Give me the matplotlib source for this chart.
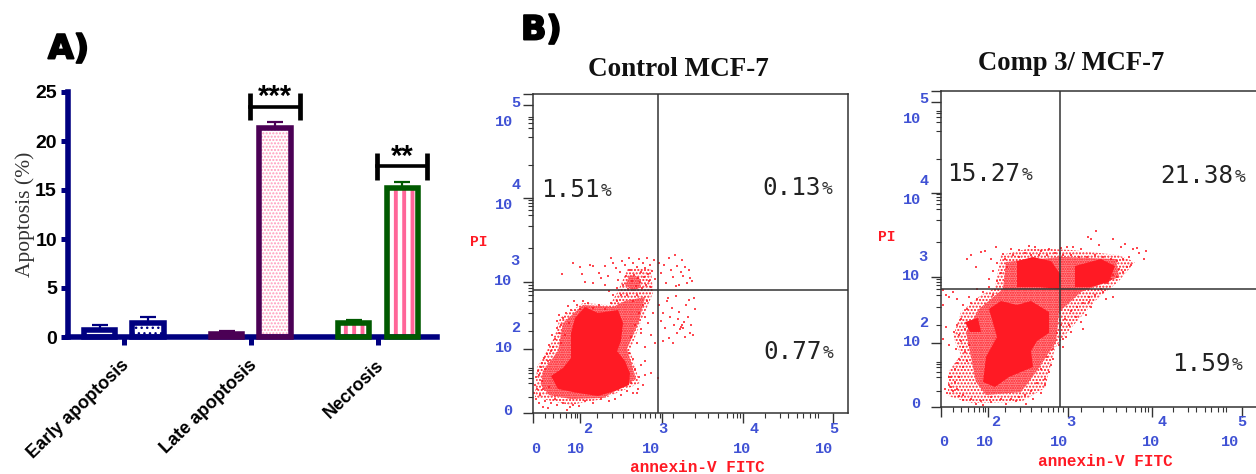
import matplotlib
matplotlib.use('Agg')
import matplotlib.pyplot as plt
import matplotlib.patheffects as pe
import numpy as np

W, H = 1256, 474

# Panel A
categories = ['Early apoptosis', 'Late apoptosis', 'Necrosis']
control_vals = [0.75, 0.3, 1.45]
treated_vals = [1.45, 21.3, 15.2]
control_err = [0.45, 0.3, 0.3]
treated_err = [0.55, 0.6, 0.6]
y_ticks = [0, 5, 10, 15, 20, 25]
sig_cats = [1, 2]
sig_heights = [23.5, 17.4]
sig_labels = ['***', '**']

# Panel B - flow cytometry plots, everything in display channels
x_major = [0, 47, 129, 210, 300]
x_minor = [12, 20, 27, 33, 38, 42, 44, 64, 79, 90, 100, 107, 112, 117, 122, 127, 140, 162, 175, 185,
           194, 200, 204, 207, 232, 247, 255, 264, 270, 277, 282, 285]
y_minor = [16, 30, 35, 40, 43, 45, 82, 100, 112, 118, 122, 125, 128, 165, 187, 198, 203, 207, 210, 213,
           248, 276, 285, 290, 294, 296]
exponents = ['2', '3', '4', '5']
percent_ctrl = ['1.51', '0.13', '0.77']
percent_comp = ['15.27', '21.38', '1.59']

ctrl_dense = [(18, 37), (30, 45), (38, 55), (38, 80), (42, 95), (52, 106), (65, 100), (85, 103), (90, 90), (88, 72),
              (84, 62), (92, 52), (97, 40), (96, 28), (82, 22), (65, 17), (45, 20), (25, 24)]
ctrl_mid = [(8, 28), (10, 42), (25, 62), (30, 90), (50, 108), (80, 106), (92, 112), (112, 116), (106, 92),
            (94, 64), (103, 34), (70, 15), (38, 14), (16, 18)]
ctrl_light = [(2, 16), (4, 46), (20, 73), (27, 95), (50, 110), (77, 108), (85, 122), (95, 145), (118, 145),
              (120, 120), (110, 96), (97, 63), (107, 30), (70, 14), (37, 8), (14, 13)]
ctrl_patch = [(92, 128), (97, 138), (106, 136), (108, 126), (100, 122)]
ctrl_pts = [(29, 139), (40, 150), (47, 146), (49, 139), (57, 148), (60, 147), (52, 131), (60, 130), (66, 140),
            (68, 135), (72, 147), (75, 137), (78, 155), (80, 150), (83, 145), (85, 133), (87, 141), (89, 152),
            (90, 128), (92, 148), (93, 137), (95, 124), (96, 155), (97, 143), (99, 132), (100, 150), (101, 138),
            (103, 127), (104, 146), (105, 135), (106, 154), (107, 131), (108, 141), (109, 125), (110, 150),
            (111, 136), (112, 145), (113, 128), (114, 155), (115, 139), (116, 132), (117, 148), (118, 126),
            (119, 142), (121, 153), (122, 134), (126, 150), (128, 140), (131, 148), (133, 130), (136, 155),
            (138, 143), (140, 136), (142, 158), (144, 147), (146, 128), (148, 141), (150, 137), (152, 146),
            (154, 130), (156, 143), (157, 135), (159, 132), (149, 153), (143, 127), (126, 108), (128, 92),
            (130, 100), (132, 85), (134, 112), (136, 75), (137, 96), (139, 105), (140, 70), (141, 88),
            (143, 117), (144, 80), (145, 94), (146, 101), (147, 84), (148, 86), (149, 88), (150, 85), (151, 91),
            (152, 76), (153, 108), (155, 96), (156, 113), (157, 80), (158, 88), (160, 78), (161, 115), (162, 104),
            (135, 115), (130, 72), (112, 52), (118, 40), (105, 24), (125, 35), (110, 28), (100, 20), (122, 70),
            (118, 78), (115, 90), (120, 100), (108, 80), (112, 66), (3, 14), (6, 10), (10, 6), (15, 5), (34, 3),
            (37, 6), (40, 8), (2, 28), (5, 42), (9, 50), (14, 59), (20, 66), (26, 80), (24, 92), (26, 98),
            (35, 107), (41, 112), (50, 112),
            (1, 20), (4, 24), (7, 18), (9, 32), (3, 36), (6, 38), (12, 44), (8, 46), (15, 52), (11, 55), (18, 62),
            (16, 68), (22, 74), (19, 78), (24, 85), (28, 88), (30, 95), (33, 100), (38, 103), (44, 108), (47, 104),
            (55, 110), (60, 105), (66, 108), (72, 104), (78, 110), (84, 112), (80, 118), (88, 118), (76, 122),
            (72, 128), (84, 125), (94, 118), (100, 112), (104, 118), (110, 108), (114, 112), (106, 100), (112, 96),
            (102, 88), (108, 84), (98, 76), (104, 70), (96, 60), (100, 54), (108, 48), (102, 44), (112, 38),
            (106, 36), (98, 30), (104, 20), (94, 22), (88, 18), (82, 14), (76, 12), (68, 14), (60, 10), (52, 12),
            (46, 7), (30, 10), (24, 8), (18, 10), (12, 12), (22, 14), (16, 26), (10, 24), (28, 70), (32, 78),
            (36, 90)]

comp_dense = [(48, 98), (60, 106), (76, 102), (90, 106), (108, 95), (108, 74), (96, 66), (90, 56), (92, 40), (68, 30),
              (54, 20), (42, 25), (45, 50), (56, 70)]
comp_top_a = [(76, 146), (92, 150), (110, 146), (120, 132), (118, 118), (98, 120), (76, 120)]
comp_top_b = [(134, 141), (160, 148), (174, 141), (168, 125), (150, 120), (134, 120)]
comp_patch = [(24, 85), (37, 89), (40, 75), (29, 75)]
comp_mid = [(35, 25), (25, 75), (38, 98), (62, 118), (65, 145), (120, 150), (175, 148), (178, 130), (140, 115),
            (118, 95), (115, 65), (95, 35), (80, 15), (45, 12)]
comp_light = [(7, 12), (7, 35), (20, 52), (12, 70), (20, 95), (40, 112), (54, 119), (60, 152), (90, 159),
              (130, 157), (177, 152), (194, 145), (177, 125), (157, 109), (130, 79), (114, 59), (104, 19),
              (80, 5), (30, 4), (10, 10)]
comp_pts = [(26, 148), (30, 152), (35, 140), (40, 155), (44, 156), (50, 148), (55, 160), (62, 153), (70, 158),
            (78, 157), (88, 161), (94, 160), (100, 156), (108, 158), (120, 159), (126, 160), (132, 160),
            (140, 158), (147, 170), (155, 176), (150, 168), (158, 162), (172, 168), (180, 160), (184, 163),
            (192, 158), (196, 159), (205, 156), (203, 148), (198, 154), (188, 150), (190, 142), (182, 135),
            (170, 128), (176, 130), (162, 115), (165, 108), (172, 110), (150, 100), (148, 105), (145, 92),
            (140, 85), (135, 90), (130, 75), (125, 70), (118, 62), (122, 68), (142, 78), (128, 82), (2, 117),
            (5, 112), (2, 102), (8, 110), (12, 115), (16, 108), (5, 80), (2, 68), (8, 62), (15, 58), (20, 66),
            (13, 75), (24, 55), (18, 48), (14, 38), (10, 30), (8, 22), (12, 16), (18, 11), (22, 7), (35, 3),
            (42, 2), (50, 5), (65, 3), (75, 6), (85, 3), (92, 8), (100, 14), (104, 22), (108, 35), (112, 48),
            (6, 14), (10, 20), (4, 18), (14, 25), (8, 30), (18, 30), (22, 40), (16, 44), (26, 46), (22, 60),
            (28, 62), (18, 72), (24, 78), (16, 82), (20, 88), (26, 98), (22, 102), (30, 104), (36, 108), (28, 110),
            (42, 115), (36, 118), (48, 120), (52, 112), (48, 128), (56, 126), (52, 136), (60, 134), (56, 144),
            (64, 148), (66, 140), (72, 152), (78, 150), (84, 154), (90, 152), (98, 152), (106, 152), (114, 154),
            (122, 152), (130, 152), (138, 150), (146, 150), (154, 152), (162, 150), (170, 148), (176, 146),
            (182, 148), (186, 140), (178, 138), (172, 132), (166, 124), (160, 118), (154, 112), (148, 110),
            (142, 104), (136, 100), (130, 96), (124, 88), (120, 82), (116, 74), (122, 60), (112, 58), (106, 50),
            (110, 42), (100, 38), (104, 28), (96, 24), (90, 16), (84, 12), (78, 10), (70, 8), (60, 8), (50, 10),
            (40, 6), (30, 8), (22, 12), (16, 18)]

RED = '#ff1a24'
BLUE = '#3f51d4'
SANS = 'Liberation Sans'
SERIF = 'Liberation Serif'
MONO = 'Liberation Mono'

fig = plt.figure(figsize=(W / 100, H / 100), dpi=100, facecolor='white')


def box(left, top, right, bottom):
    return [left / W, 1 - bottom / H, (right - left) / W, (bottom - top) / H]


# page axes in pixels, only for the loose text
page = fig.add_axes([0, 0, 1, 1], zorder=5)
page.set_xlim(0, W)
page.set_ylim(H, 0)
page.axis('off')

# ---- Panel A ----
ax = fig.add_axes(box(68, 92, 437, 337))
navy, purple, green, pink = '#000080', '#4b0055', '#005a00', '#ff6699'
x = np.arange(len(categories))
off = 0.19
bar_w = 0.245

plt.rcParams['hatch.linewidth'] = 1.0
hatches = [(None, 'white'), ('...', navy)], [(None, 'white'), ('.....', '#ff99bb')], [('||', pink), ('||', pink)]
outlines = [navy, purple, green]
for i in x:
    for j, (vals, errs, shift) in enumerate([(control_vals, control_err, -off), (treated_vals, treated_err, off)]):
        h, hc = hatches[i][j]
        ax.errorbar(i + shift, vals[i], yerr=[[0], [errs[i]]], color=outlines[i], capsize=5.8, capthick=1.6,
                    elinewidth=1.6, zorder=1, clip_on=False)
        if i == 2:
            plt.rcParams['hatch.linewidth'] = 2.8
        ax.bar(i + shift, vals[i], bar_w, color='white', edgecolor=hc, hatch=h, linewidth=0, zorder=2)
        ax.bar(i + shift, vals[i], bar_w, fill=False, edgecolor=outlines[i], linewidth=4, zorder=3, clip_on=False)
plt.rcParams['hatch.linewidth'] = 1.0

ax.set_xlim(-0.44, 2.465)
ax.set_ylim(0, 25)
ax.set_yticks(y_ticks)
ax.set_xticks(x)
ax.set_xticklabels([])
for i, name in zip(x, categories):
    ax.annotate(name, xy=(i, 0), xycoords='data', xytext=(-2, -14), textcoords='offset points', rotation=44,
                ha='right', va='top', rotation_mode='anchor', fontsize=13, fontweight='bold', family=SANS)
ax.tick_params(axis='y', length=5, width=3.6, color=navy, labelsize=14, pad=3)
ax.tick_params(axis='x', length=6, width=3.6, color=navy)
for lab in ax.get_yticklabels():
    lab.set_fontweight('bold')
    lab.set_family(SANS)
ax.spines['top'].set_visible(False)
ax.spines['right'].set_visible(False)
for side in ['left', 'bottom']:
    ax.spines[side].set_color(navy)
    ax.spines[side].set_linewidth(4)
ax.set_ylabel('Apoptosis (%)', fontsize=15.5, family=SERIF, color='#333333', labelpad=0)

for cat, yy, lab in zip(sig_cats, sig_heights, sig_labels):
    xc = cat + off
    hw = 0.2
    ax.plot([xc - hw, xc + hw], [yy, yy], color='black', lw=2.6, clip_on=False, zorder=4)
    for xe in [xc - hw, xc + hw]:
        ax.plot([xe, xe], [yy - 1.4, yy + 1.4], color='black', lw=3.4, clip_on=False, zorder=4,
                solid_capstyle='butt')
    ax.text(xc, yy + 1.0, lab, ha='center', va='center', fontsize=21, fontweight='bold', family=SANS,
            clip_on=False)

stroke = [pe.withStroke(linewidth=1.4, foreground='black')]
page.text(48, 49, 'A)', fontsize=24, fontweight='bold', family='DejaVu Sans', va='center', path_effects=stroke)
page.text(521, 30, 'B)', fontsize=24, fontweight='bold', family='DejaVu Sans', va='center', path_effects=stroke)


# ---- Panel B ----
def flow_panel(rect, xmax, ymax, xmaj, ymaj, gx, gy, layers, pts, show_right=True):
    a = fig.add_axes(box(*rect))
    a.set_xlim(0, xmax)
    a.set_ylim(0, ymax)
    # speckled fills stand in for the thousands of events in each region
    for poly, face, hatch in layers:
        px, py = zip(*poly)
        a.fill(px, py, facecolor=face, edgecolor=RED if hatch else face, hatch=hatch, lw=0, zorder=1)
    px, py = zip(*pts)
    a.scatter(px, py, s=2.2, marker='s', color=RED, lw=0, alpha=0.8, zorder=2)
    a.axvline(gx, color='#333333', lw=1.1, zorder=3)
    a.axhline(gy, color='#333333', lw=1.1, zorder=3)
    for s in a.spines.values():
        s.set_color('#333333')
        s.set_linewidth(1.1)
    a.spines['right'].set_visible(show_right)
    a.set_xticks(xmaj)
    a.set_yticks([0] + ymaj + [ymax])
    a.set_xticks(x_minor, minor=True)
    a.set_yticks(y_minor, minor=True)
    a.tick_params(which='major', length=7, width=1.0, color='#333333', labelbottom=False, labelleft=False)
    a.tick_params(which='minor', length=3.5, width=0.8, color='#333333')
    return a


def flow_text(x0, y0, xs, ys, x_exp, y_exp, pi_pos, ann_pos, title, title_pos, title_size):
    # exponents sit above and to the right of each "10"
    fs = 11
    page.text(x0[0], x0[1], '0', color=BLUE, family=MONO, fontweight='bold', fontsize=fs, ha='center', va='center')
    for (lx, ly), (ex, ey), e in zip(xs, x_exp, exponents):
        page.text(lx, ly, '10', color=BLUE, family=MONO, fontweight='bold', fontsize=fs, ha='center', va='center')
        page.text(ex, ey, e, color=BLUE, family=MONO, fontweight='bold', fontsize=fs, ha='center', va='center')
    page.text(y0[0], y0[1], '0', color=BLUE, family=MONO, fontweight='bold', fontsize=fs, ha='center', va='center')
    for (lx, ly), (ex, ey), e in zip(ys, y_exp, exponents):
        page.text(lx, ly, '10', color=BLUE, family=MONO, fontweight='bold', fontsize=fs, ha='center', va='center')
        page.text(ex, ey, e, color=BLUE, family=MONO, fontweight='bold', fontsize=fs, ha='center', va='center')
    page.text(pi_pos[0], pi_pos[1], 'PI', color=RED, family=MONO, fontweight='bold', fontsize=10.5, ha='center', va='center')
    page.text(ann_pos[0], ann_pos[1], 'annexin-V FITC', color=RED, family=MONO, fontweight='bold', fontsize=11.5,
              ha='center', va='center')
    page.text(title_pos[0], title_pos[1], title, family=SERIF, fontweight='bold', fontsize=title_size, ha='center',
              va='center', color='#111111')


def pct(left, y, value):
    page.text(left, y, value, family='DejaVu Sans Mono', fontsize=17.5, color='#222222', va='center')
    page.text(left + len(value) * 14.9, y + 1, '%', family='DejaVu Sans Mono', fontsize=13, color='#333333',
              va='center')


light, mid = 'none', '#ff8a8e'
flow_panel((533, 94, 848, 413), 315, 319, x_major, [64, 131, 215, 308], 125, 123,
           [(ctrl_light, light, '.....'), (ctrl_mid, mid, '.......'), (ctrl_dense, RED, None),
            (ctrl_patch, mid, '.......')], ctrl_pts)
flow_text((536, 449), (508, 411),
          [(576, 449), (651, 449), (742, 449), (824, 449)], [(504, 348), (503, 281), (504, 205), (504, 122)],
          [(588, 429), (663, 429), (754, 429), (834, 429)], [(516, 328), (515, 261), (516, 185), (516, 103)],
          (479, 242), (697, 468), 'Control MCF-7', (678, 69), 19.5)
for (lx, ly), v in zip([(541, 190), (762, 188), (763, 352)], percent_ctrl):
    pct(lx, ly, v)

flow_panel((941, 91, 1256, 407), 315, 316, [0, 47, 127, 211, 301], [64, 130, 214, 305], 119, 118,
           [(comp_light, light, '.....'), (comp_mid, mid, '.......'), (comp_dense, RED, None),
            (comp_top_a, RED, None), (comp_top_b, RED, None), (comp_patch, RED, None)], comp_pts, show_right=False)
flow_text((944, 442), (916, 404),
          [(985, 442), (1059, 442), (1151, 442), (1230, 442)], [(912, 342), (911, 276), (912, 200), (912, 119)],
          [(996, 422), (1071, 422), (1162, 422), (1242, 422)], [(924, 323), (923, 257), (924, 181), (924, 99)],
          (887, 237), (1105, 461), 'Comp 3/ MCF-7', (1071, 63), 19.2)
for (lx, ly), v in zip([(947, 174), (1160, 176), (1172, 364)], percent_comp):
    pct(lx, ly, v)

plt.savefig('out.png', dpi=100, facecolor='white')
